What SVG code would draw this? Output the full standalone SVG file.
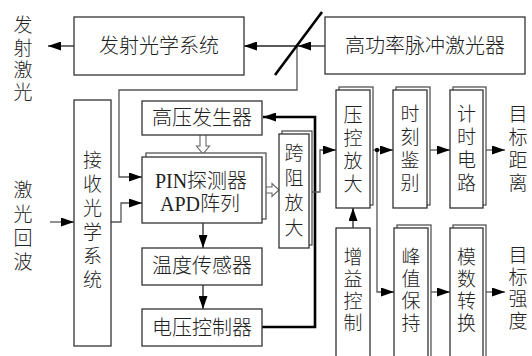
<svg xmlns="http://www.w3.org/2000/svg" width="532" height="356" viewBox="0 0 532 356">
<style>
.box{fill:#fff;stroke:#333;stroke-width:1.3}
.back{fill:#fff;stroke:#555;stroke-width:1.3}
.t{font-family:"Noto Sans CJK SC",sans-serif;font-size:20px;font-weight:300;fill:#222;text-anchor:middle}
.v{font-family:"Noto Sans CJK SC",sans-serif;font-size:19px;font-weight:300;fill:#222;text-anchor:middle}
.s{font-family:"Liberation Serif","Noto Sans CJK SC",serif;font-size:20px;font-weight:300;fill:#222;text-anchor:middle}
.ln{stroke:#555;fill:none;stroke-width:1.3}
.bk{stroke:#222;fill:none;stroke-width:1.3}
.thick{stroke:#000;stroke-width:2.6;fill:none}
.hol{fill:#fff;stroke:#666;stroke-width:1.1}
</style>
<defs>
<marker id="ah" markerUnits="userSpaceOnUse" markerWidth="13" markerHeight="9" refX="13" refY="4.5" orient="auto">
<path d="M0,0 L13,4.5 L0,9 z" fill="#000"/>
</marker>
</defs>
<rect width="532" height="356" fill="#fff"/>

<g id="connectors">
<line class="bk" x1="74" y1="46" x2="48" y2="46" marker-end="url(#ah)"/>
<line class="bk" x1="325" y1="46" x2="298" y2="46" marker-end="url(#ah)"/>
<line class="bk" x1="297" y1="46" x2="244" y2="46" marker-end="url(#ah)"/>
<polyline class="ln" points="297,46 297,90 119,90 119,177 142,177" marker-end="url(#ah)"/>
<line class="ln" x1="50" y1="222" x2="74" y2="222" marker-end="url(#ah)"/>
<polyline class="ln" points="111,222 121,222 121,203 142,203" marker-end="url(#ah)"/>
<path class="hol" d="M200,135 V146 H196.5 L203,154 L209.5,146 H206 V135"/>
<path class="hol" d="M266,187 H272 V183.5 L279,190 L272,196.5 V193 H266"/>
<line class="bk" x1="203" y1="223" x2="203" y2="248" marker-end="url(#ah)"/>
<line class="bk" x1="203" y1="285" x2="203" y2="309" marker-end="url(#ah)"/>
<polyline class="thick" points="262,327 315,327 315,117 263,117" marker-end="url(#ah)"/>
<polyline class="ln" points="311,192 320,192 320,150 336,150" marker-end="url(#ah)"/>
<line class="bk" x1="353" y1="228" x2="353" y2="208" marker-end="url(#ah)"/>
<line class="ln" x1="373" y1="150" x2="393" y2="150" marker-end="url(#ah)"/>
<polyline class="ln" points="377,150 377,292 394,292" marker-end="url(#ah)"/>
<circle cx="377" cy="150" r="2.2" fill="#000"/>
<line class="ln" x1="430" y1="150" x2="450" y2="150" marker-end="url(#ah)"/>
<line class="ln" x1="483" y1="150" x2="505" y2="150" marker-end="url(#ah)"/>
<line class="ln" x1="430" y1="292" x2="450" y2="292" marker-end="url(#ah)"/>
<line class="ln" x1="483" y1="292" x2="505" y2="292" marker-end="url(#ah)"/>
<line x1="275" y1="75" x2="322" y2="12" stroke="#000" stroke-width="2.6"/>
</g>

<g id="label-emit">
<text class="v"><tspan x="23" y="32">发</tspan><tspan x="23" y="55">射</tspan><tspan x="23" y="77">激</tspan><tspan x="23" y="99">光</tspan></text>
</g>
<g id="label-echo">
<text class="v"><tspan x="23" y="197">激</tspan><tspan x="23" y="221">光</tspan><tspan x="23" y="245">回</tspan><tspan x="23" y="269">波</tspan></text>
</g>

<g id="emit-optics">
<rect class="box" x="74" y="17" width="170" height="58"/>
<text class="t" x="159" y="53">发射光学系统</text>
</g>
<g id="laser">
<rect class="box" x="325" y="17" width="200" height="57"/>
<text class="t" x="425" y="53">高功率脉冲激光器</text>
</g>
<g id="recv-optics">
<rect class="box" x="74" y="100" width="37" height="246"/>
<text class="v"><tspan x="92.5" y="167">接</tspan><tspan x="92.5" y="191">收</tspan><tspan x="92.5" y="215">光</tspan><tspan x="92.5" y="239">学</tspan><tspan x="92.5" y="263">系</tspan><tspan x="92.5" y="287">统</tspan></text>
</g>
<g id="hv-gen">
<rect class="box" x="142" y="101" width="120" height="34"/>
<text class="t" x="202" y="125">高压发生器</text>
</g>
<g id="detector">
<rect class="back" x="146" y="153" width="120" height="66"/>
<rect class="box" x="142" y="157" width="120" height="66"/>
<text class="s" x="201" y="188">PIN探测器</text>
<text class="s" x="200" y="211">APD阵列</text>
</g>
<g id="temp-sensor">
<rect class="box" x="142" y="248" width="120" height="37"/>
<text class="t" x="202" y="273">温度传感器</text>
</g>
<g id="volt-ctrl">
<rect class="box" x="142" y="309" width="120" height="37"/>
<text class="t" x="202" y="335">电压控制器</text>
</g>
<g id="tia">
<rect class="back" x="282" y="131" width="30" height="114"/>
<rect class="box" x="279" y="134" width="30" height="114"/>
<text class="v"><tspan x="294" y="160">跨</tspan><tspan x="294" y="185">阻</tspan><tspan x="294" y="210">放</tspan><tspan x="294" y="235">大</tspan></text>
</g>
<g id="vga">
<rect class="back" x="339" y="87" width="34" height="118"/>
<rect class="box" x="336" y="90" width="34" height="118"/>
<text class="v"><tspan x="353" y="122">压</tspan><tspan x="353" y="145">控</tspan><tspan x="353" y="168">放</tspan><tspan x="353" y="191">大</tspan></text>
</g>
<g id="gain-ctrl">
<rect class="box" x="336" y="228" width="34" height="132"/>
<text class="v"><tspan x="353" y="264">增</tspan><tspan x="353" y="286">益</tspan><tspan x="353" y="308">控</tspan><tspan x="353" y="330">制</tspan></text>
</g>
<g id="timing">
<rect class="back" x="396" y="87" width="34" height="118"/>
<rect class="box" x="393" y="90" width="34" height="118"/>
<text class="v"><tspan x="410" y="121">时</tspan><tspan x="410" y="144">刻</tspan><tspan x="410" y="167">鉴</tspan><tspan x="410" y="190">别</tspan></text>
</g>
<g id="counter">
<rect class="back" x="453" y="87" width="33" height="118"/>
<rect class="box" x="450" y="90" width="33" height="118"/>
<text class="v"><tspan x="466.5" y="121">计</tspan><tspan x="466.5" y="144">时</tspan><tspan x="466.5" y="167">电</tspan><tspan x="466.5" y="190">路</tspan></text>
</g>
<g id="peak-hold">
<rect class="back" x="397" y="225" width="34" height="135"/>
<rect class="box" x="394" y="228" width="34" height="135"/>
<text class="v"><tspan x="411" y="264">峰</tspan><tspan x="411" y="286">值</tspan><tspan x="411" y="308">保</tspan><tspan x="411" y="330">持</tspan></text>
</g>
<g id="adc">
<rect class="back" x="453" y="225" width="33" height="135"/>
<rect class="box" x="450" y="228" width="33" height="135"/>
<text class="v"><tspan x="466.5" y="264">模</tspan><tspan x="466.5" y="286">数</tspan><tspan x="466.5" y="308">转</tspan><tspan x="466.5" y="330">换</tspan></text>
</g>
<g id="label-range">
<text class="v"><tspan x="518" y="121">目</tspan><tspan x="518" y="144">标</tspan><tspan x="518" y="167">距</tspan><tspan x="518" y="190">离</tspan></text>
</g>
<g id="label-intensity">
<text class="v"><tspan x="518" y="262">目</tspan><tspan x="518" y="284">标</tspan><tspan x="518" y="306">强</tspan><tspan x="518" y="328">度</tspan></text>
</g>
</svg>
